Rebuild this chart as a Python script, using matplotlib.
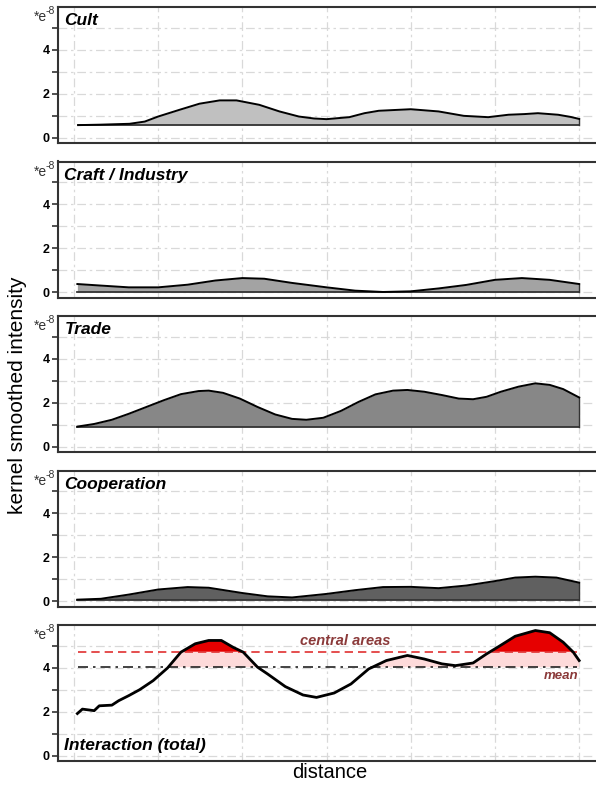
import matplotlib
matplotlib.use("Agg")
import matplotlib.pyplot as plt
import numpy as np

plt.rcParams['font.family'] = ['Liberation Sans', 'DejaVu Sans']

# values (x in distance grid units, y in 1e-8)
cult_x = [0.05, 0.31, 0.66, 0.84, 1.0, 1.25, 1.49, 1.73, 1.93, 2.2, 2.44, 2.67,
          2.85, 3.0, 3.27, 3.45, 3.62, 4.0, 4.33, 4.63, 4.92, 5.16, 5.35, 5.51,
          5.75, 5.9, 6.0]
cult_y = [0.58, 0.6, 0.64, 0.74, 0.97, 1.27, 1.55, 1.7, 1.7, 1.5, 1.2, 0.97,
          0.88, 0.85, 0.94, 1.12, 1.23, 1.3, 1.2, 1.0, 0.94, 1.05, 1.08, 1.12,
          1.05, 0.95, 0.86]

craft_x = [0.04, 0.32, 0.65, 1.0, 1.35, 1.68, 2.0, 2.26, 2.59, 3.0, 3.34, 3.67,
           4.0, 4.33, 4.66, 5.0, 5.32, 5.65, 6.0]
craft_y = [0.38, 0.31, 0.23, 0.23, 0.35, 0.54, 0.65, 0.62, 0.43, 0.23, 0.08,
           0.02, 0.05, 0.18, 0.34, 0.57, 0.65, 0.57, 0.38]

trade_x = [0.04, 0.24, 0.45, 0.65, 0.86, 1.07, 1.27, 1.48, 1.6, 1.77, 1.97,
           2.18, 2.39, 2.59, 2.76, 2.96, 3.17, 3.38, 3.58, 3.79, 3.96, 4.16,
           4.37, 4.57, 4.74, 4.9, 5.07, 5.28, 5.48, 5.65, 5.81, 6.0]
trade_y = [0.92, 1.04, 1.23, 1.5, 1.81, 2.12, 2.39, 2.53, 2.55, 2.45, 2.19,
           1.81, 1.47, 1.27, 1.23, 1.32, 1.63, 2.04, 2.38, 2.55, 2.58, 2.5,
           2.35, 2.19, 2.16, 2.27, 2.5, 2.73, 2.88, 2.81, 2.62, 2.24]

coop_x = [0.04, 0.32, 0.65, 1.0, 1.35, 1.6, 2.0, 2.3, 2.59, 3.0, 3.34, 3.67,
          4.0, 4.33, 4.66, 5.0, 5.24, 5.48, 5.73, 6.0]
coop_y = [0.08, 0.12, 0.31, 0.54, 0.65, 0.62, 0.38, 0.23, 0.18, 0.34, 0.51,
          0.65, 0.66, 0.6, 0.72, 0.92, 1.08, 1.12, 1.08, 0.85]

inter_x = [0.04, 0.1, 0.24, 0.3, 0.45, 0.53, 0.65, 0.78, 0.94, 1.11, 1.27,
           1.44, 1.6, 1.75, 1.89, 2.01, 2.18, 2.3, 2.51, 2.72, 2.88, 3.09,
           3.29, 3.5, 3.71, 3.96, 4.16, 4.37, 4.53, 4.74, 4.9, 5.03, 5.24,
           5.48, 5.65, 5.81, 5.93, 6.0]
inter_y = [1.92, 2.12, 2.05, 2.27, 2.3, 2.5, 2.73, 3.0, 3.41, 3.98, 4.7,
           5.08, 5.23, 5.23, 4.92, 4.7, 4.02, 3.71, 3.14, 2.76, 2.65, 2.85,
           3.26, 3.94, 4.32, 4.55, 4.39, 4.17, 4.09, 4.21, 4.62, 4.92, 5.42,
           5.68, 5.58, 5.15, 4.7, 4.32]
inter_mean = 4.02
inter_central = 4.72

panels = [("Cult", cult_x, cult_y, "#c0c0c0"),
          ("Craft / Industry", craft_x, craft_y, "#a3a3a3"),
          ("Trade", trade_x, trade_y, "#878787"),
          ("Cooperation", coop_x, coop_y, "#606060")]

W, H = 596, 785
fig = plt.figure(figsize=(W / 100, H / 100), dpi=100)

left_px, top0_px, step_px, height_px = 58, 7, 154.5, 136


def make_axes(i):
    top = top0_px + i * step_px
    ax = fig.add_axes([left_px / W, 1 - (top + height_px) / H,
                       1 - left_px / W, height_px / H])
    ax.set_xlim(-0.19, 6.2)
    ax.set_ylim(-0.23, 5.93)
    ax.set_xticks(range(7))
    ax.set_xticklabels([])
    ax.set_yticks(range(6))
    ax.set_yticklabels(['0', '', '2', '', '4', ''], fontweight='bold', fontsize=9)
    ax.tick_params(axis='x', length=0)
    ax.tick_params(axis='y', length=4, width=1.2, color='#333333', pad=2)
    ax.grid(color='#d9d9d9', linestyle=(0, (7, 3, 2, 3)), linewidth=0.9)
    ax.set_axisbelow(True)
    for s in ['top', 'left', 'bottom']:
        ax.spines[s].set_color('#333333')
        ax.spines[s].set_linewidth(1.5)
    ax.spines['right'].set_visible(False)
    # unit label "*e-8" left of the top of each panel
    ax.text(-0.021, 0.925, '*e', transform=ax.transAxes, ha='right', va='center',
            fontsize=10, color='#333333')
    ax.text(-0.006, 0.97, '-8', transform=ax.transAxes, ha='right', va='center',
            fontsize=7.5, color='#333333')
    return ax


for i, (name, xs, ys, col) in enumerate(panels):
    ax = make_axes(i)
    xs = np.array(xs)
    ys = np.array(ys)
    base = ys.min()
    ax.fill_between(xs, base, ys, color=col, linewidth=0)
    ax.plot([xs[0], xs[-1]], [base, base], color='#333333', lw=1.3)
    ax.plot([xs[-1], xs[-1]], [base, ys[-1]], color='#333333', lw=1.0)
    ax.plot(xs, ys, color='black', lw=1.4)
    ax.text(0.012, 0.955, name, transform=ax.transAxes, ha='left', va='top',
            fontsize=12.5, fontweight='bold', fontstyle='italic')

ax = make_axes(4)
xs = np.array(inter_x)
ys = np.array(inter_y)
ax.fill_between(xs, inter_mean, ys, where=ys > inter_mean, interpolate=True,
                color='#fddada', linewidth=0)
ax.fill_between(xs, inter_central, ys, where=ys > inter_central, interpolate=True,
                color='#e60000', linewidth=0)
ax.plot([0.05, 5.97], [inter_mean, inter_mean], color='#222222', lw=1.2,
        linestyle=(0, (6, 3, 1.5, 3)))
ax.plot([0.05, 5.97], [inter_central, inter_central], color='#e03030', lw=1.2,
        linestyle=(0, (5, 3)))
ax.plot(xs, ys, color='black', lw=2.0)
ax.text(3.22, 5.2, 'central areas', color='#8b3a3a', fontsize=10.5,
        fontweight='bold', fontstyle='italic', ha='center', va='center')
ax.text(5.99, 3.62, 'mean', color='#8b3a3a', fontsize=9.5,
        fontweight='bold', fontstyle='italic', ha='right', va='center')
ax.text(0.012, 0.06, 'Interaction (total)', transform=ax.transAxes, ha='left',
        va='bottom', fontsize=12.5, fontweight='bold', fontstyle='italic')

fig.text(18 / W, 1 - 395 / H, 'kernel smoothed intensity', rotation=90,
         ha='center', va='center', fontsize=15)
fig.text(330 / W, 1 - 773 / H, 'distance', ha='center', va='center', fontsize=14.5)

fig.savefig('out.png', dpi=100)
